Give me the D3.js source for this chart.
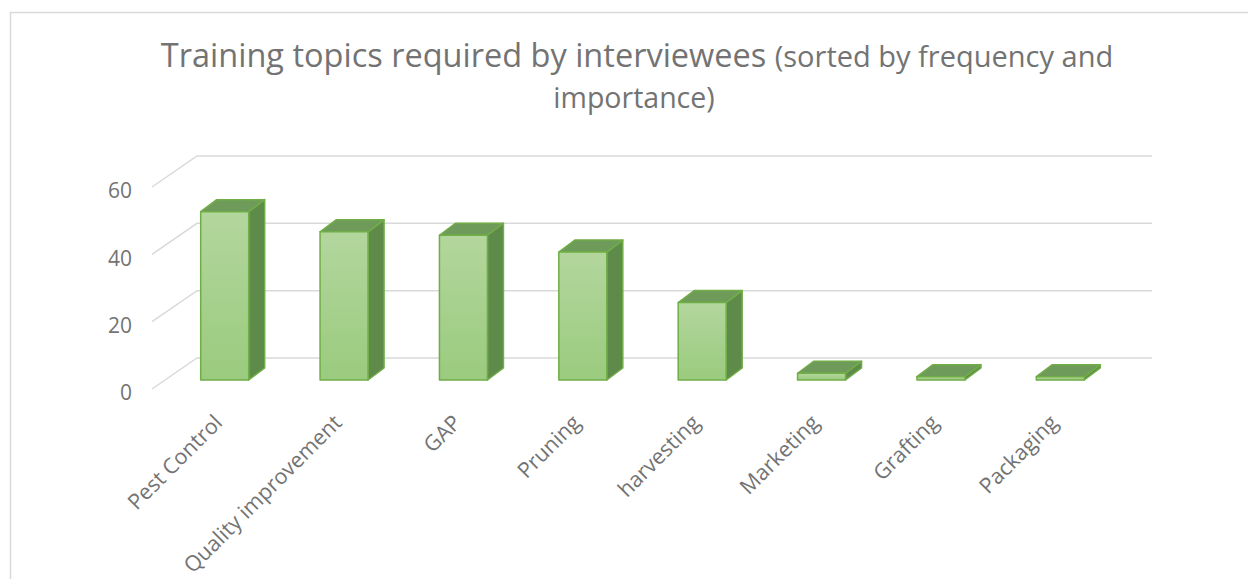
<!DOCTYPE html>
<html><head><meta charset="utf-8">
<script src="https://cdn.jsdelivr.net/npm/d3@7"></script>
<style>body{margin:0;background:#fff} svg{display:block}</style>
</head><body><svg id="c" width="1248" height="579"></svg>
<script>
const categories = ["Pest Control","Quality improvement","GAP","Pruning","harvesting","Marketing","Grafting","Packaging"];
const values = [50,44,43,38,23,2,1,1];
const yTicks = [0,20,40,60];
const titleMain = "Training topics required by interviewees ";
const titleSub1 = "(sorted by frequency and";
const titleSub2 = "importance)";

const svg = d3.select("#c");
const font = "'Open Sans', 'DejaVu Sans', sans-serif";
const textColor = "#737373";

// chart border
svg.append("rect").attr("x",10.5).attr("y",12.5).attr("width",1300).attr("height",700)
  .attr("fill","#fff").attr("stroke","#d9d9d9").attr("stroke-width",1.5);

// title
const t = svg.append("text").attr("x",637).attr("y",67).attr("text-anchor","middle")
  .attr("font-family",font).attr("fill",textColor);
t.append("tspan").attr("font-size",32.5).text(titleMain);
t.append("tspan").attr("font-size",29).text(titleSub1);
svg.append("text").attr("x",634).attr("y",108).attr("text-anchor","middle")
  .attr("font-family",font).attr("fill",textColor).attr("font-size",28.5).text(titleSub2);

// 3D geometry
const depth = {dx:45, dy:-31};     // front plane -> back wall
const barOff = {dx:13, dy:-9};     // front plane -> bar front face
const barDepth = {dx:16, dy:-12};  // bar thickness
const barW = 48;

const x = d3.scaleBand().domain(categories).range([152,1107]);
const y = d3.scaleLinear().domain([0,60]).range([389,187]);

// gridlines (side wall diagonal + back wall horizontal)
const g = svg.append("g");
yTicks.forEach(v=>{
  const yy = y(v);
  g.append("path")
   .attr("d",`M${x.range()[0]},${yy}L${x.range()[0]+depth.dx},${yy+depth.dy}L${x.range()[1]+depth.dx},${yy+depth.dy}`)
   .attr("fill","none").attr("stroke","#d9d9d9").attr("stroke-width",1.5);
});

// y tick labels
const yAxis = d3.axisLeft(y).tickValues(yTicks).tickSize(0).tickPadding(0);
const ya = svg.append("g").attr("transform","translate(132,4)").call(yAxis);
ya.select(".domain").remove();
ya.selectAll("text").attr("font-family",font).attr("font-size",21).attr("fill",textColor);

// gradient
const defs = svg.append("defs");
const grad = defs.append("linearGradient").attr("id","gf").attr("x1",0).attr("y1",0).attr("x2",0).attr("y2",1);
grad.append("stop").attr("offset","0%").attr("stop-color","#b3d69d");
grad.append("stop").attr("offset","100%").attr("stop-color","#9acb7e");

// bars
const bars = svg.append("g");
categories.forEach((c,i)=>{
  const cx = x(c) + x.bandwidth()/2 + barOff.dx;
  const x0 = cx - barW/2, x1 = cx + barW/2;
  const yb = y(0) + barOff.dy, yt = y(values[i]) + barOff.dy;
  const bx = barDepth.dx, by = barDepth.dy;
  const bg = bars.append("g").attr("stroke","#70ad47").attr("stroke-width",1.5).attr("stroke-linejoin","round");
  bg.append("path").attr("d",`M${x1},${yt}L${x1+bx},${yt+by}L${x1+bx},${yb+by}L${x1},${yb}Z`).attr("fill","#5e8b4a");
  bg.append("path").attr("d",`M${x0},${yt}L${x0+bx},${yt+by}L${x1+bx},${yt+by}L${x1},${yt}Z`).attr("fill","#6e9b5a");
  bg.append("rect").attr("x",x0).attr("y",yt).attr("width",barW).attr("height",Math.max(0,yb-yt)).attr("fill","url(#gf)");
});

// x labels
const xl = svg.append("g");
categories.forEach(c=>{
  const ax = x(c) + x.bandwidth()/2 + barOff.dx - 1;
  const ay = 424;
  xl.append("text").attr("transform",`translate(${ax},${ay}) rotate(-45)`)
    .attr("text-anchor","end").attr("font-family",font).attr("font-size",21.5).attr("fill",textColor).text(c);
});
</script></body></html>
